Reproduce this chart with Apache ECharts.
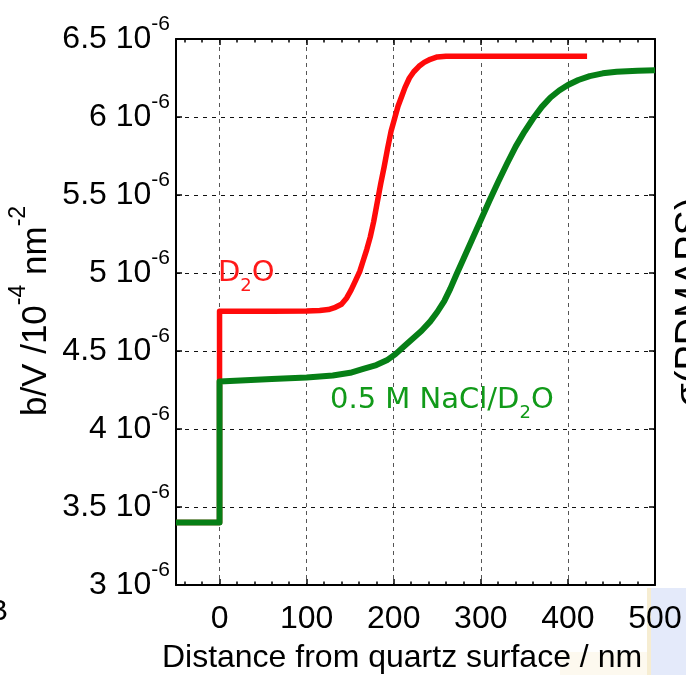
<!DOCTYPE html>
<html>
<head>
<meta charset="utf-8">
<script src="https://cdn.jsdelivr.net/npm/echarts@6/dist/echarts.min.js"></script>
<style>
  html, body { margin: 0; padding: 0; background: #fff; }
  #chart { width: 686px; height: 675px; }
</style>
</head>
<body>
<div id="chart"></div>
<script>
// Scattering length density profiles (b/V) against distance from the quartz surface.

// D2O profile
const d2oDistance = [-50, 0, 0, 60, 100, 115, 125, 133, 140, 146, 151, 156, 161, 165, 169, 173, 177, 181, 185, 189, 193, 197, 201, 205, 209, 213, 218, 223, 229, 235, 242, 250, 260, 422];
const d2oDensity  = [3.4, 3.4, 4.755, 4.755, 4.756, 4.76, 4.766, 4.78, 4.80, 4.84, 4.89, 4.95, 5.01, 5.08, 5.15, 5.23, 5.33, 5.45, 5.57, 5.68, 5.80, 5.91, 5.99, 6.07, 6.13, 6.19, 6.25, 6.29, 6.325, 6.35, 6.37, 6.385, 6.39, 6.39];

// 0.5 M NaCl/D2O profile
const naclDistance = [-50, 0, 0, 30, 60, 100, 130, 150, 165, 180, 192, 202, 212, 222, 232, 242, 250, 258, 265, 272, 280, 290, 300, 310, 320, 330, 340, 350, 360, 370, 380, 390, 400, 412, 425, 440, 456, 480, 500];
const naclDensity  = [3.4, 3.4, 4.305, 4.313, 4.321, 4.33, 4.343, 4.36, 4.385, 4.41, 4.44, 4.48, 4.53, 4.58, 4.63, 4.69, 4.75, 4.82, 4.9, 4.99, 5.09, 5.215, 5.34, 5.465, 5.585, 5.70, 5.81, 5.905, 5.99, 6.065, 6.125, 6.17, 6.205, 6.237, 6.262, 6.28, 6.29, 6.297, 6.30];

// Axis ticks
const xTicks = [0, 100, 200, 300, 400, 500];
const xMinorTicks = [-40, -20, 20, 40, 60, 80, 120, 140, 160, 180, 220, 240, 260, 280, 320, 340, 360, 380, 420, 440, 460, 480];
const yTicks = [3, 3.5, 4, 4.5, 5, 5.5, 6, 6.5];
const yTickPower = '-6';

const pairs = (xs, ys) => xs.map((x, i) => [x, ys[i]]);

const chart = echarts.init(document.getElementById('chart'), null, { renderer: 'canvas' });

const frame = { show: true, onZero: false, lineStyle: { color: '#000', width: 2 } };

function xAxisDef(position, ticks, len, showLabel, showLine, showSplit) {
  return {
    type: 'value', min: -50, max: 500, position: position, offset: 0,
    axisLine: showLine ? frame : { show: false, onZero: false },
    axisTick: { show: true, inside: true, length: len, customValues: ticks,
                lineStyle: { color: '#000', width: 1.5 } },
    axisLabel: showLabel ? {
      show: true, customValues: ticks, margin: 18, color: '#000',
      fontFamily: 'Liberation Sans', fontSize: 32
    } : { show: false },
    splitLine: showSplit ? { show: true, lineStyle: { color: '#555', width: 1, type: [4, 4] } } : { show: false }
  };
}

const option = {
  backgroundColor: '#fff',
  animation: false,
  grid: { left: 176, right: 31, top: 39, bottom: 90, containLabel: false },
  xAxis: [
    xAxisDef('bottom', xTicks, 6, true, true, true),
    xAxisDef('bottom', xMinorTicks, 3.5, false, false, false),
    xAxisDef('top', xTicks, 6, false, true, false),
    xAxisDef('top', xMinorTicks, 3.5, false, false, false)
  ],
  yAxis: [
    {
      type: 'value', min: 3, max: 6.5, interval: 0.5, position: 'left',
      axisLine: frame,
      axisTick: { show: true, inside: true, length: 6, lineStyle: { color: '#000', width: 1.5 } },
      axisLabel: {
        show: true, margin: 6,
        formatter: v => '{a|' + String(yTicks.find(t => Math.abs(t - v) < 1e-9) ?? v) + ' 10}{s|' + yTickPower + '}',
        rich: {
          a: { fontFamily: 'Liberation Sans', fontSize: 32, color: '#000' },
          s: { fontFamily: 'Liberation Sans', fontSize: 21, color: '#000', padding: [0, 0, 30, 0] }
        }
      },
      splitLine: { show: true, lineStyle: { color: '#111', width: 1, type: [4, 5] } }
    },
    {
      type: 'value', min: 3, max: 6.5, interval: 0.5, position: 'right',
      axisLine: frame,
      axisTick: { show: true, inside: true, length: 6, lineStyle: { color: '#000', width: 1.5 } },
      axisLabel: { show: false },
      splitLine: { show: false }
    }
  ],
  series: [
    {
      name: 'D2O', type: 'line', xAxisIndex: 0, yAxisIndex: 0,
      data: pairs(d2oDistance, d2oDensity),
      showSymbol: false, smooth: false, z: 3,
      lineStyle: { color: '#ff0a0a', width: 5.5, join: 'round', cap: 'butt' }
    },
    {
      name: '0.5 M NaCl/D2O', type: 'line', xAxisIndex: 0, yAxisIndex: 0,
      data: pairs(naclDistance, naclDensity),
      showSymbol: false, smooth: false, z: 4,
      lineStyle: { color: '#067f16', width: 6, join: 'round', cap: 'butt' }
    }
  ],
  graphic: [
    // faint scan residue in the lower-right corner
    { type: 'rect', z: -10, shape: { x: 560, y: 652, width: 88, height: 23 }, style: { fill: '#fdf9ef' } },
    { type: 'rect', z: -10, shape: { x: 648, y: 588, width: 38, height: 87 }, style: { fill: '#e4eafa' } },
    { type: 'rect', z: -10, shape: { x: 647, y: 588, width: 4, height: 87 }, style: { fill: '#f6edd2' } },
    // y axis title
    {
      type: 'text', x: 36, y: 311, rotation: Math.PI / 2, z: 10,
      style: {
        text: '{a|b/V /10}{s|-4}{a| nm}{s|-2}',
        align: 'center', verticalAlign: 'middle', fill: '#000',
        rich: {
          a: { fontFamily: 'Liberation Sans', fontSize: 35, fill: '#000' },
          s: { fontFamily: 'Liberation Sans', fontSize: 23, fill: '#000', padding: [0, 0, 34, 0] }
        }
      }
    },
    // x axis title
    {
      type: 'text', x: 402, y: 658, z: 10,
      style: {
        text: 'Distance from quartz surface / nm',
        align: 'center', verticalAlign: 'middle', fill: '#000',
        font: '32px "Liberation Sans"'
      }
    },
    // curve labels
    {
      type: 'text', x: 218, y: 273, z: 10,
      style: {
        text: '{a|D}{b|2}{a|O}', align: 'left', verticalAlign: 'middle',
        rich: {
          a: { fontFamily: 'DejaVu Sans', fontSize: 29, fill: '#ff1a1a' },
          b: { fontFamily: 'DejaVu Sans', fontSize: 18, fill: '#ff1a1a', padding: [26, 0, 0, 0] }
        }
      }
    },
    {
      type: 'text', x: 330, y: 400, z: 10,
      style: {
        text: '{a|0.5 M NaCl/D}{b|2}{a|O}', align: 'left', verticalAlign: 'middle',
        rich: {
          a: { fontFamily: 'DejaVu Sans', fontSize: 29, fill: '#119a19' },
          b: { fontFamily: 'DejaVu Sans', fontSize: 18, fill: '#119a19', padding: [26, 0, 0, 0] }
        }
      }
    },
    // neighbouring panel fragments at the edges
    {
      type: 'text', x: 8, y: 612, z: 10,
      style: { text: 'B', align: 'right', verticalAlign: 'middle', fill: '#000', font: '30px "Liberation Sans"' }
    },
    {
      type: 'text', x: 692, y: 302, rotation: Math.PI / 2, z: 10,
      style: { text: 'σ(PDMAPS)', align: 'center', verticalAlign: 'middle', fill: '#000', font: '38px "Liberation Sans"' }
    }
  ]
};

chart.setOption(option);
</script>
</body>
</html>
